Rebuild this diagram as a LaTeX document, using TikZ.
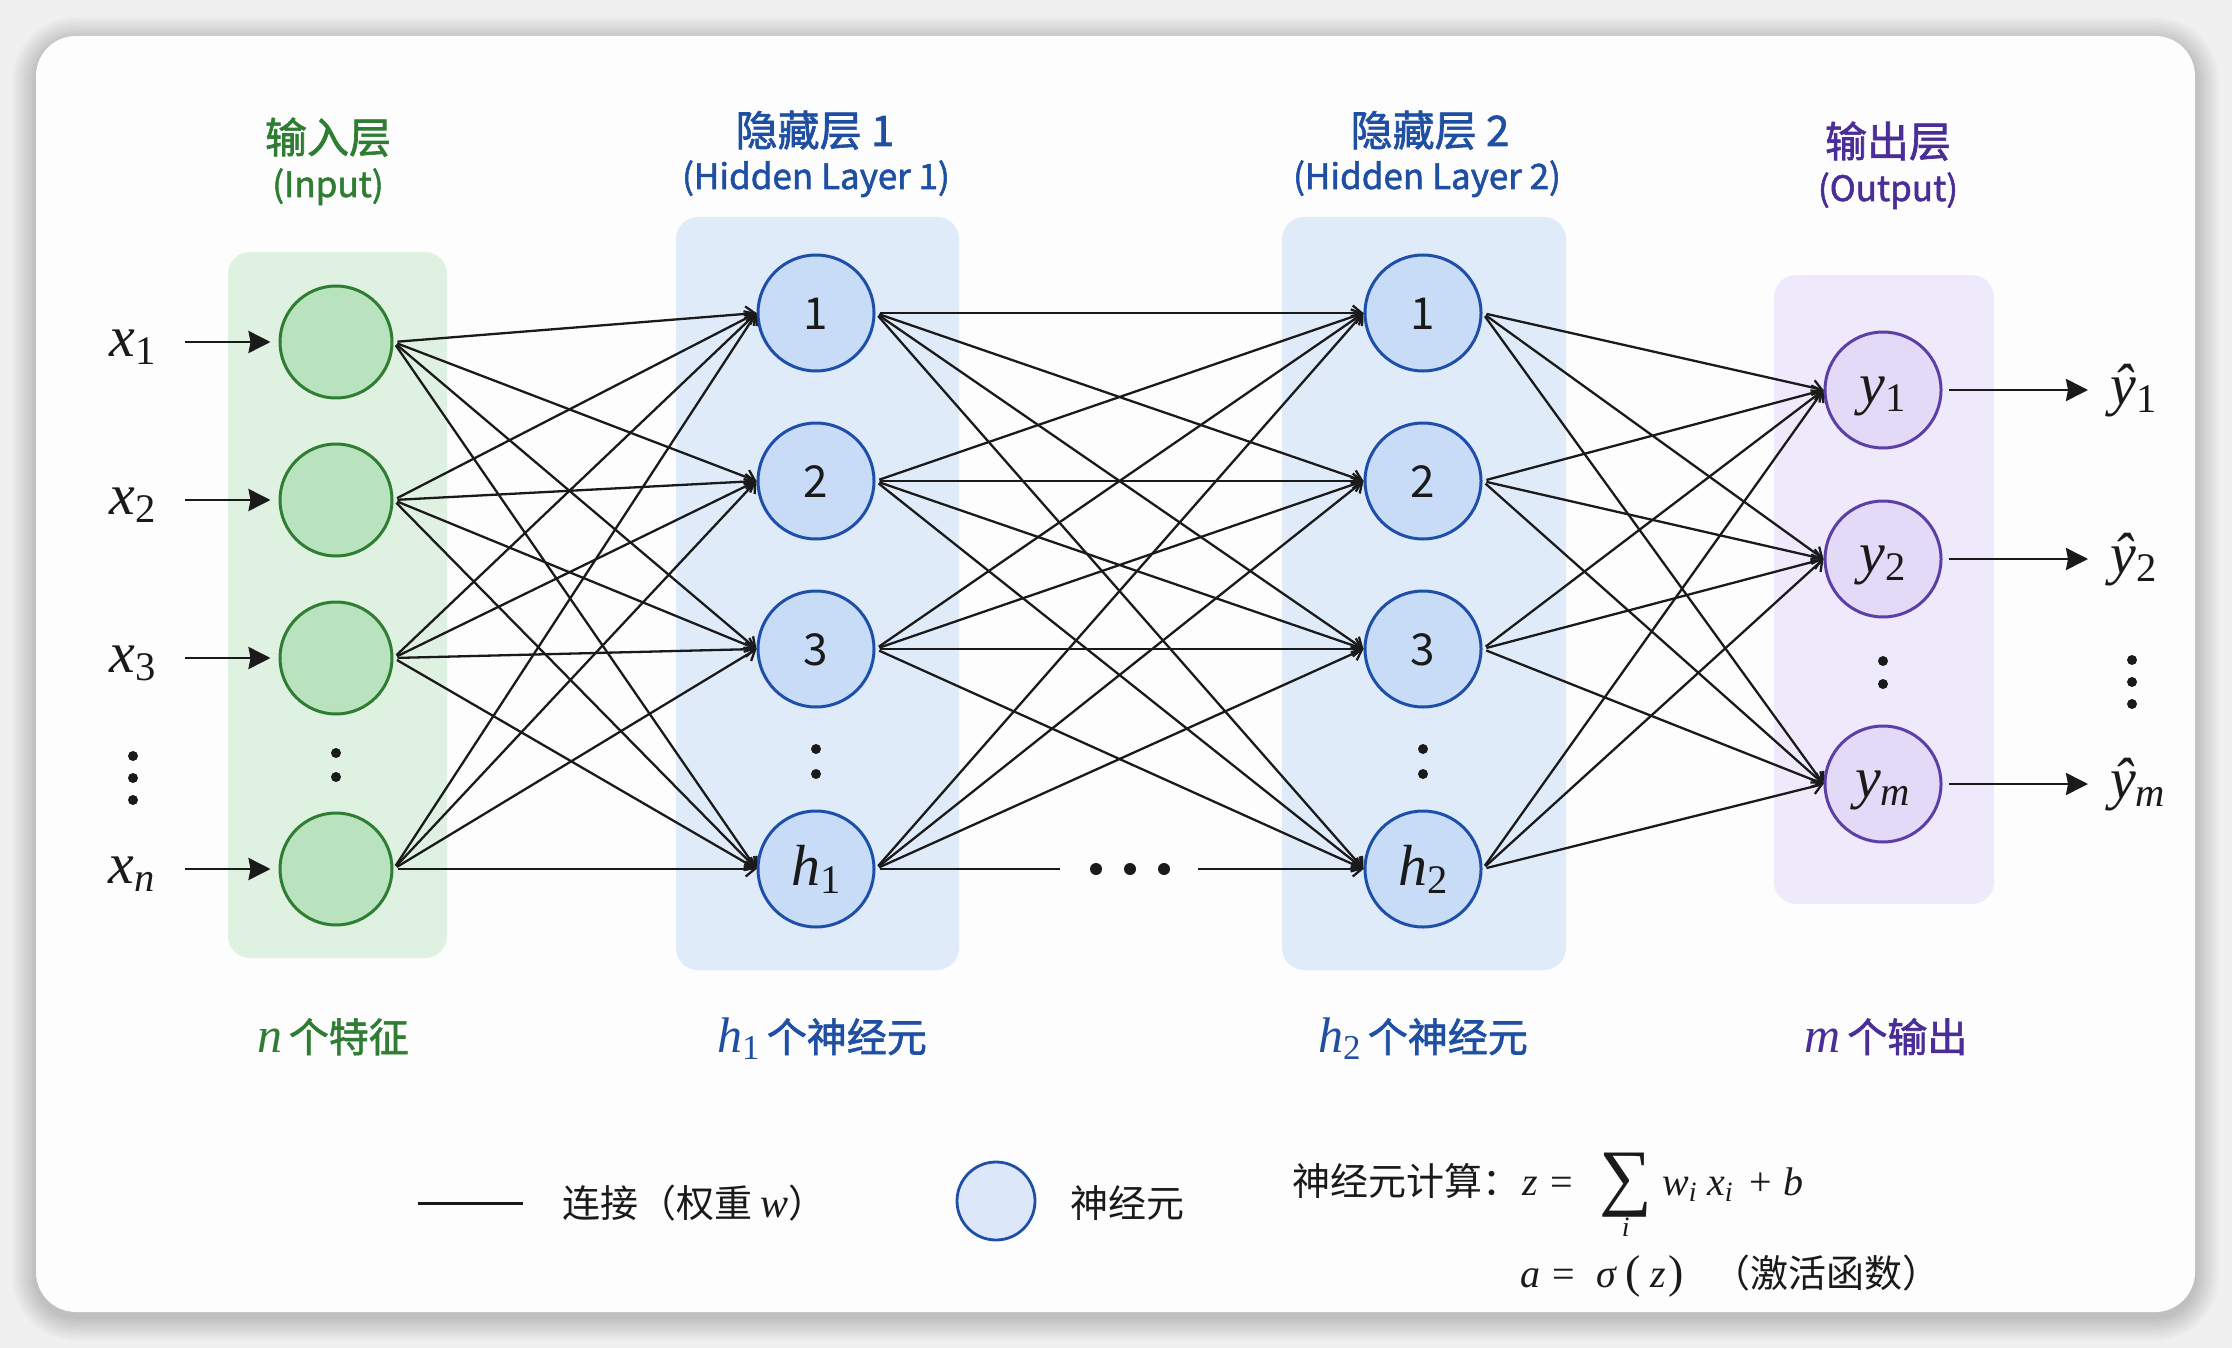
\documentclass[tikz,border=0pt]{standalone}
\usepackage{fix-cm}
\usepackage{fontspec}
\newfontfamily\cjk{Noto Sans CJK SC}
\newfontfamily\cjkmed[FakeBold=1.6]{Noto Sans CJK SC}
\newfontfamily\tms{Liberation Serif}
\usetikzlibrary{arrows.meta}
\definecolor{pagebg}{HTML}{F0F0F0}
\definecolor{cardbg}{HTML}{FDFDFD}
\definecolor{ingreen}{HTML}{2E7D32}
\definecolor{incircle}{HTML}{B9E3BE}
\definecolor{inbox}{HTML}{DFF1E0}
\definecolor{hblue}{HTML}{1E4FA8}
\definecolor{htext}{HTML}{1E4FA3}
\definecolor{hcircle}{HTML}{C8DCF7}
\definecolor{hbox}{HTML}{E0EBFA}
\definecolor{opurple}{HTML}{5B3FA6}
\definecolor{otext}{HTML}{4A2D96}
\definecolor{ocircle}{HTML}{E3DAF7}
\definecolor{obox}{HTML}{EFEAFB}
\definecolor{lgfill}{HTML}{DCE8F9}
\definecolor{ink}{HTML}{1A1A1A}
\newcommand\tv[1]{{\tms\itshape\fontsize{50pt}{52pt}\selectfont #1}}
\tikzset{
  inneuron/.style={circle,draw=ingreen,fill=incircle,line width=3pt,minimum size=112pt,inner sep=0pt},
  hneuron/.style={circle,draw=hblue,fill=hcircle,line width=3pt,minimum size=116pt,inner sep=0pt},
  oneuron/.style={circle,draw=opurple,fill=ocircle,line width=3pt,minimum size=116pt,inner sep=0pt},
  conn/.style={line width=2.3pt,draw=ink,shorten <=4pt,-{Straight Barb[length=9pt,width=15pt]}},
  ioarrow/.style={line width=2.8pt,draw=ink,-{Stealth[length=22pt,width=22pt,inset=2pt]}},
  mathlbl/.style={anchor=base,inner sep=0pt,text=ink,font=\tms\itshape\fontsize{58pt}{60pt}\selectfont},
  digit/.style={anchor=base,inner sep=0pt,text=ink,font=\cjk\fontsize{44pt}{46pt}\selectfont},
  ttl/.style={anchor=base,inner sep=0pt,font=\cjkmed\fontsize{42pt}{46pt}\selectfont},
  subttl/.style={anchor=base,inner sep=0pt,font=\cjkmed\fontsize{35pt}{38pt}\selectfont},
  btm/.style={anchor=base,inner sep=0pt,font=\cjkmed\fontsize{40pt}{44pt}\selectfont},
  lgtext/.style={anchor=base west,inner sep=0pt,text=ink,font=\cjk\fontsize{38pt}{42pt}\selectfont},
  lgmath/.style={anchor=base west,inner sep=0pt,text=ink,font=\tms\fontsize{40pt}{44pt}\selectfont},
}
\begin{document}
\begin{tikzpicture}[x=1pt,y=-1pt]
\useasboundingbox (0,0) rectangle (2232,1348);
\fill[pagebg] (0,0) rectangle (2232,1348);
% soft shadow of the card
\foreach \e in {2,4,...,24}{
  \pgfmathsetmacro\rr{40+\e}
  \fill[black,opacity=0.016,rounded corners=\rr pt] (36-\e,41-\e) rectangle (2195+\e,1317+\e);
}
\fill[cardbg,rounded corners=40pt] (36,36) rectangle (2195,1312);

% layer boxes
\fill[inbox,rounded corners=22pt] (228,252) rectangle (447,958);
\fill[hbox,rounded corners=22pt] (676,217) rectangle (959,970);
\fill[hbox,rounded corners=22pt] (1282,217) rectangle (1566,970);
\fill[obox,rounded corners=22pt] (1774,275) rectangle (1994,904);

% titles
\node[ttl,text=ingreen] (t1a) at (328,153) {输入层};
\node[subttl,text=ingreen] (t1b) at (328,197) {(Input)};
\node[ttl,text=htext] (t2a) at (815,146) {隐藏层 1};
\node[subttl,text=htext] (t2b) at (816,189) {(Hidden Layer 1)};
\node[ttl,text=htext] (t3a) at (1430,146) {隐藏层 2};
\node[subttl,text=htext] (t3b) at (1427,189) {(Hidden Layer 2)};
\node[ttl,text=otext] (t4a) at (1888,157) {输出层};
\node[subttl,text=otext] (t4b) at (1888,201) {(Output)};

% neurons
\node[inneuron] (I1) at (336,342) {};
\node[inneuron] (I2) at (336,500) {};
\node[inneuron] (I3) at (336,658) {};
\node[inneuron] (In) at (336,869) {};
\node[hneuron] (A1) at (816,313) {};
\node[hneuron] (A2) at (816,481) {};
\node[hneuron] (A3) at (816,649) {};
\node[hneuron] (Ah) at (816,869) {};
\node[hneuron] (B1) at (1423,313) {};
\node[hneuron] (B2) at (1423,481) {};
\node[hneuron] (B3) at (1423,649) {};
\node[hneuron] (Bh) at (1423,869) {};
\node[oneuron] (Y1) at (1883,390) {};
\node[oneuron] (Y2) at (1883,559) {};
\node[oneuron] (Ym) at (1883,784) {};

% texts inside neurons
\node[digit] (tA1) at (816,329) {1};
\node[digit] (tA2) at (816,497) {2};
\node[digit] (tA3) at (816,665) {3};
\node[mathlbl] (tAh) at (816,885) {h\textsubscript{\upshape 1}};
\node[digit] (tB1) at (1423,329) {1};
\node[digit] (tB2) at (1423,497) {2};
\node[digit] (tB3) at (1423,665) {3};
\node[mathlbl] (tBh) at (1423,885) {h\textsubscript{\upshape 2}};
\node[mathlbl] (tY1) at (1883,403) {y\textsubscript{\upshape 1}};
\node[mathlbl] (tY2) at (1883,572) {y\textsubscript{\upshape 2}};
\node[mathlbl] (tYm) at (1883,797) {y\textsubscript{m}};

% column dots
\foreach \cx/\ya/\yb in {336/753/777, 816/749/774, 1423/749/774, 1883/661/684}{
  \fill[ink] (\cx,\ya) circle (5pt);
  \fill[ink] (\cx,\yb) circle (5pt);
}
\foreach \cy in {756,778,800}{\fill[ink] (133,\cy) circle (5pt);}
\foreach \cy in {660,682,704}{\fill[ink] (2132,\cy) circle (5pt);}

% input labels and arrows
\node[mathlbl] (lx1) at (133,356) {x\textsubscript{\upshape 1}};
\node[mathlbl] (lx2) at (133,514) {x\textsubscript{\upshape 2}};
\node[mathlbl] (lx3) at (133,672) {x\textsubscript{\upshape 3}};
\node[mathlbl] (lxn) at (132,883) {x\textsubscript{n}};
\coordinate (s1) at (185,342);
\coordinate (s2) at (185,500);
\coordinate (s3) at (185,658);
\coordinate (sn) at (185,869);
\draw[ioarrow,shorten >=8pt] (s1) -- (I1.west);
\draw[ioarrow,shorten >=8pt] (s2) -- (I2.west);
\draw[ioarrow,shorten >=8pt] (s3) -- (I3.west);
\draw[ioarrow,shorten >=8pt] (sn) -- (In.west);

% output arrows and labels
\coordinate (e1) at (2088,390);
\coordinate (e2) at (2088,559);
\coordinate (em) at (2088,784);
\draw[ioarrow,shorten <=6pt] (Y1.east) -- (e1);
\draw[ioarrow,shorten <=6pt] (Y2.east) -- (e2);
\draw[ioarrow,shorten <=6pt] (Ym.east) -- (em);
\node[mathlbl] (ly1) at (2134,404) {ŷ\textsubscript{\upshape 1}};
\node[mathlbl] (ly2) at (2134,573) {ŷ\textsubscript{\upshape 2}};
\node[mathlbl] (lym) at (2138,798) {ŷ\textsubscript{m}};

% connections
\foreach \s in {I1,I2,I3,In}{\foreach \t in {A1,A2,A3,Ah}{\draw[conn] (\s.east) -- (\t.west);}}
\foreach \s in {A1,A2,A3}{\foreach \t in {B1,B2,B3,Bh}{\draw[conn] (\s.east) -- (\t.west);}}
\foreach \t in {B1,B2,B3}{\draw[conn] (Ah.east) -- (\t.west);}
\foreach \s in {B1,B2,B3,Bh}{\foreach \t in {Y1,Y2,Ym}{\draw[conn] (\s.east) -- (\t.west);}}
\coordinate (gapL) at (1060,869);
\coordinate (gapR) at (1198,869);
\draw[conn,-] (Ah.east) -- (gapL);
\draw[conn,shorten <=0pt] (gapR) -- (Bh.west);
\foreach \cx in {1096,1130,1164}{\fill[ink] (\cx,869) circle (6pt);}

% bottom labels
\node[btm,text=ingreen] (b1) at (333,1052) {\tv{n}\,个特征};
\node[btm,text=htext] (b2) at (822,1052) {\tv{h\textsubscript{\upshape 1}}\,个神经元};
\node[btm,text=htext] (b3) at (1423,1052) {\tv{h\textsubscript{\upshape 2}}\,个神经元};
\node[btm,text=otext] (b4) at (1886,1052) {\tv{m}\,个输出};

% legend
\coordinate (lgA) at (418,1203);
\coordinate (lgB) at (523,1203);
\draw[line width=3pt,draw=ink] (lgA) -- (lgB);
\node[lgtext] (lg1) at (562,1217) {连接（权重 {\tms\itshape\fontsize{42pt}{42pt}\selectfont w}）};
\node[circle,draw=hblue,fill=lgfill,line width=2.8pt,minimum size=78pt,inner sep=0pt] (lgc) at (996,1201) {};
\node[lgtext] (lg2) at (1070,1217) {神经元};
\node[lgtext] (lg3) at (1292,1195) {神经元计算：};
\node[lgmath] (lg4) at (1522,1195) {{\itshape z}\hspace{13pt}=\hspace{26pt}$\mathop{\raisebox{-6pt}{\tms\fontsize{74pt}{74pt}\selectfont ∑}}\limits_{\mbox{\tms\itshape\fontsize{28pt}{28pt}\selectfont i}}$\hspace{10pt}{\itshape w}\textsubscript{\itshape i}\hspace{10pt}{\itshape x}\textsubscript{\itshape i}\hspace{16pt}+\hspace{12pt}{\itshape b}};
\node[lgmath] (lg5) at (1520,1287) {{\itshape a}\hspace{12pt}=\hspace{22pt}{\itshape σ}\hspace{9pt}{\fontsize{46pt}{46pt}\selectfont(}\hspace{10pt}{\itshape z}\hspace{2pt}{\fontsize{46pt}{46pt}\selectfont)}};
\node[lgtext] (lg6) at (1712,1287) {（激活函数）};
\end{tikzpicture}
\end{document}
